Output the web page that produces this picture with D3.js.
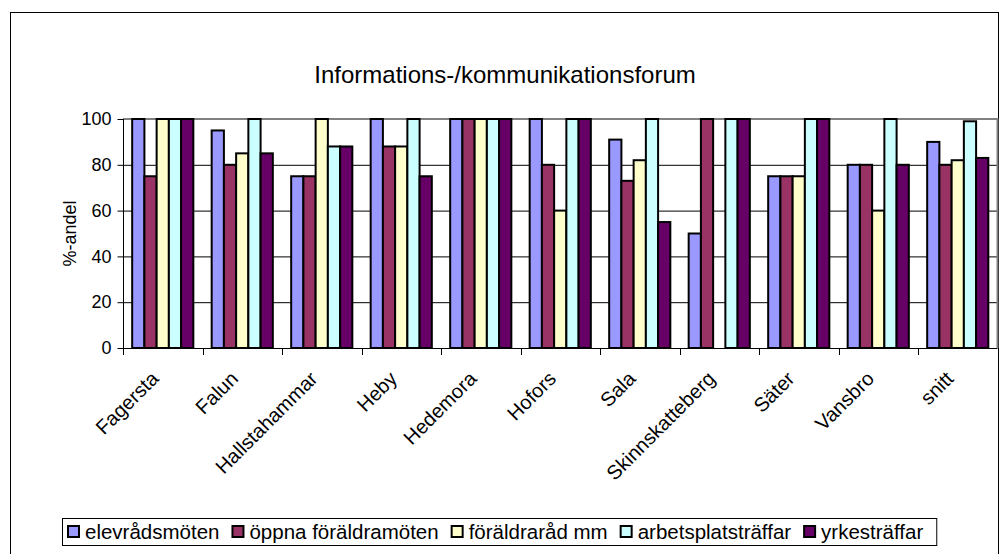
<!DOCTYPE html>
<html>
<head>
<meta charset="utf-8">
<script src="https://cdn.jsdelivr.net/npm/d3@7"></script>
<style>
  body { margin: 0; background: #fff; }
  text { font-family: Arial, "Liberation Sans", sans-serif; fill: #000; }
</style>
</head>
<body>
<div id="chart-area"></div>
<script>
// data
var categories = ["Fagersta", "Falun", "Hallstahammar", "Heby", "Hedemora", "Hofors",
                  "Sala", "Skinnskatteberg", "Säter", "Vansbro", "snitt"];
var seriesNames = ["elevrådsmöten", "öppna föräldramöten", "föräldraråd mm",
                   "arbetsplatsträffar", "yrkesträffar"];
var elevradsmoten      = [100, 95, 75, 100, 100, 100, 91, 50, 75, 80, 90];
var oppnaForaldramoten = [75, 80, 75, 88, 100, 80, 73, 100, 75, 80, 80];
var foraldraradMm      = [100, 85, 100, 88, 100, 60, 82, null, 75, 60, 82];
var arbetsplatstraffar = [100, 100, 88, 100, 100, 100, 100, 100, 100, 100, 99];
var yrkestraffar       = [100, 85, 88, 75, 100, 100, 55, 100, 100, 80, 83];
var yTicks = [0, 20, 40, 60, 80, 100];

var seriesValues = [elevradsmoten, oppnaForaldramoten, foraldraradMm, arbetsplatstraffar, yrkestraffar];
var colors = ["#9999FF", "#993366", "#FFFFCC", "#CCFFFF", "#660066"];

var width = 1005, height = 554;
var plot = { left: 123, right: 997.5, top: 119, bottom: 348 };

var svg = d3.select("#chart-area")
    .append("svg")
        .attr("width", width)
        .attr("height", height);

// outer chart border
svg.append("rect")
    .attr("x", 10.5).attr("y", 12.5)
    .attr("width", 988).attr("height", 545)
    .attr("fill", "#fff")
    .attr("stroke", "#000")
    .attr("stroke-width", 1);

// title
svg.append("text")
    .attr("x", 505).attr("y", 83)
    .attr("text-anchor", "middle")
    .style("font-size", "24px")
    .text("Informations-/kommunikationsforum");

var x0 = d3.scaleBand()
    .domain(categories)
    .range([plot.left, plot.right])
    .padding(0);

var x1 = d3.scaleBand()
    .domain(d3.range(seriesNames.length))
    .range([0, x0.bandwidth()])
    .paddingInner(0)
    .paddingOuter(0.75);

var y = d3.scaleLinear()
    .domain([0, 100])
    .range([plot.bottom, plot.top]);

// gridlines
svg.append("g")
    .selectAll("line")
    .data(yTicks.filter(function(d){ return d > 0 && d < 100; }))
    .enter().append("line")
        .attr("x1", plot.left).attr("x2", plot.right)
        .attr("y1", function(d){ return y(d) + 0.5; })
        .attr("y2", function(d){ return y(d) + 0.5; })
        .attr("stroke", "#000")
        .attr("stroke-width", 1);

// plot area border (grey) top and right
svg.append("path")
    .attr("d", "M" + plot.left + "," + y(100) + "H" + plot.right + "V" + plot.bottom)
    .attr("fill", "none")
    .attr("stroke", "#808080")
    .attr("stroke-width", 2);

// bars
var rows = [];
seriesValues.forEach(function(vals, si){
    vals.forEach(function(v, ci){
        if (v !== null) rows.push({ cat: categories[ci], s: si, v: v });
    });
});

svg.append("g")
    .selectAll("rect")
    .data(rows)
    .enter().append("rect")
        .attr("x", function(d){ return x0(d.cat) + x1(d.s); })
        .attr("y", function(d){ return y(d.v); })
        .attr("width", x1.bandwidth())
        .attr("height", function(d){ return y(0) - y(d.v); })
        .attr("fill", function(d){ return colors[d.s]; })
        .attr("stroke", "#000")
        .attr("stroke-width", 2);

// y axis
var yAxis = d3.axisLeft(y)
    .tickValues(yTicks)
    .tickSize(6)
    .tickPadding(6);

var yg = svg.append("g")
    .attr("transform", "translate(" + (plot.left + 0.5) + ",0)")
    .call(yAxis);
yg.select(".domain").attr("stroke", "#000").attr("d", "M0," + plot.top + "V" + (plot.bottom + 7));
yg.selectAll(".tick line").attr("stroke", "#000");
yg.selectAll(".tick text")
    .style("font-size", "18px")
    .style("font-family", "Arial, 'Liberation Sans', sans-serif")
    .attr("fill", "#000");

// x axis: ticks at category boundaries
svg.append("line")
    .attr("x1", plot.left).attr("x2", plot.right)
    .attr("y1", plot.bottom + 0.5).attr("y2", plot.bottom + 0.5)
    .attr("stroke", "#000");

svg.append("g")
    .selectAll("line")
    .data(categories)
    .enter().append("line")
        .attr("x1", function(d){ return Math.round(x0(d) + x0.bandwidth()) + 0.5; })
        .attr("x2", function(d){ return Math.round(x0(d) + x0.bandwidth()) + 0.5; })
        .attr("y1", plot.bottom)
        .attr("y2", plot.bottom + 7)
        .attr("stroke", "#000");

svg.append("g")
    .selectAll("text")
    .data(categories)
    .enter().append("text")
        .attr("transform", function(d){
            var cx = x0(d) + x0.bandwidth() / 2;
            return "translate(" + (cx - 3) + "," + (plot.bottom + 32) + ") rotate(-45)";
        })
        .attr("text-anchor", "end")
        .style("font-size", "20px")
        .text(function(d){ return d; });

// y axis title
svg.append("text")
    .attr("transform", "translate(76," + ((plot.top + plot.bottom) / 2) + ") rotate(-90)")
    .attr("text-anchor", "middle")
    .style("font-size", "18px")
    .text("%-andel");

// legend
var legend = svg.append("g");
var legendBox = legend.append("rect")
    .attr("fill", "#fff")
    .attr("stroke", "#000")
    .attr("stroke-width", 1);

var lx = 68, ly = 532;
seriesNames.forEach(function(name, i){
    legend.append("rect")
        .attr("x", lx).attr("y", ly - 6)
        .attr("width", 11).attr("height", 11)
        .attr("fill", colors[i])
        .attr("stroke", "#000")
        .attr("stroke-width", 2);
    var t = legend.append("text")
        .attr("x", lx + 17).attr("y", ly)
        .attr("dy", "0.35em")
        .style("font-size", "20.5px")
        .text(name);
    lx = lx + 17 + t.node().getComputedTextLength() + 13;
});

legendBox
    .attr("x", 62.5).attr("y", 518.5)
    .attr("width", lx - 62).attr("height", 27);
</script>
</body>
</html>
